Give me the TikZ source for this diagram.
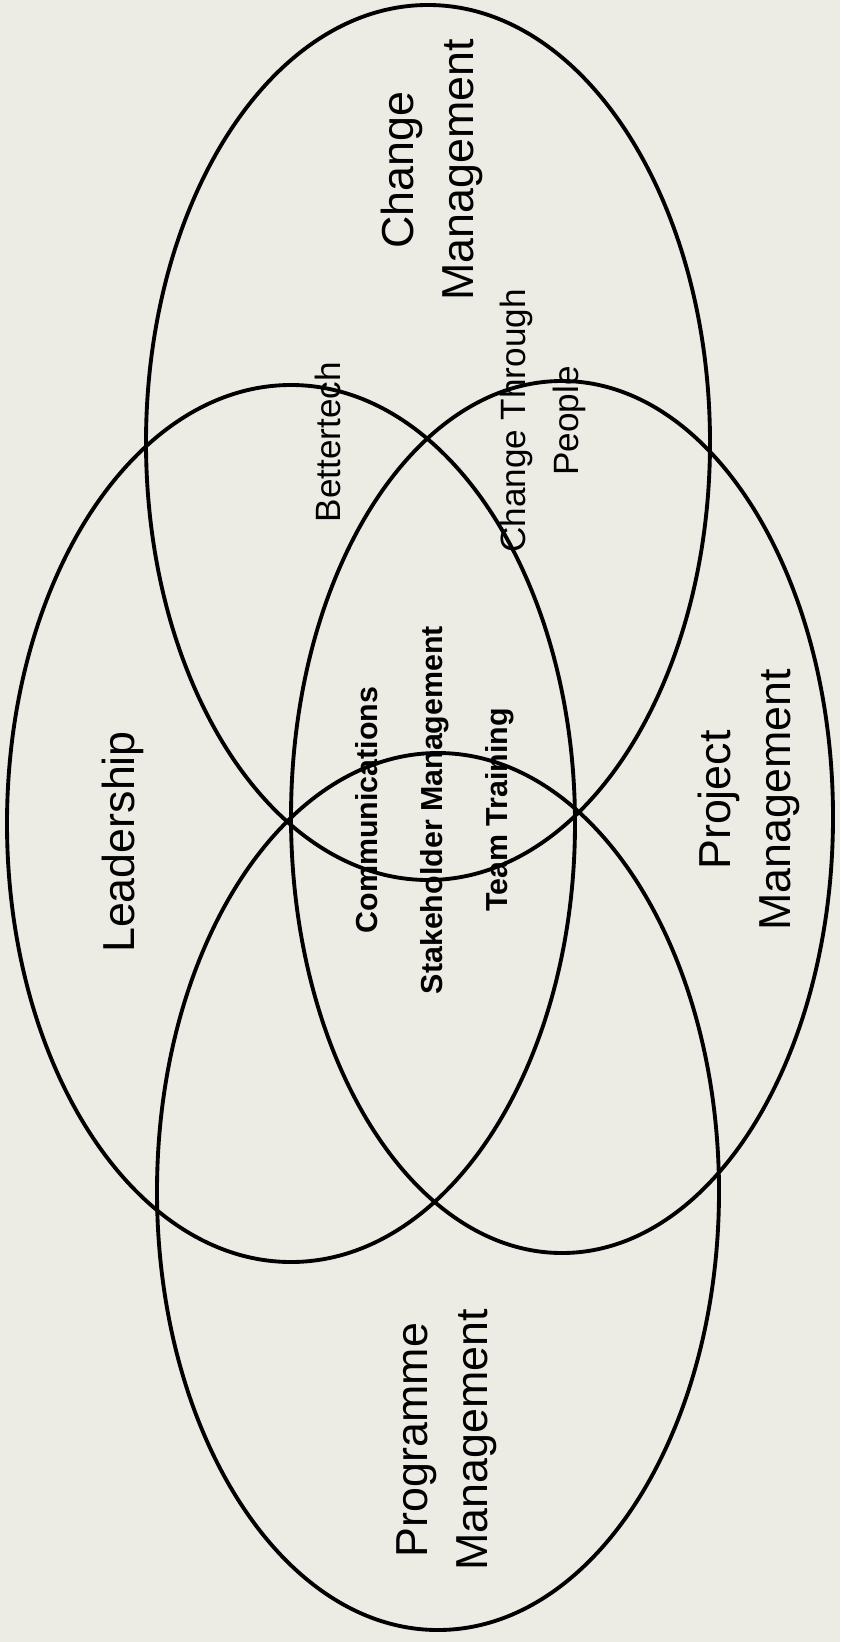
\documentclass[tikz,border=0pt]{standalone}
\usepackage{fontspec}
\setmainfont{Liberation Sans}
\definecolor{paper}{RGB}{236,236,229}
\begin{document}
\begin{tikzpicture}[x=0.02cm,y=-0.02cm,
  ring/.style={line width=2.2pt},
  biglabel/.style={rotate=90,align=center,inner sep=0pt,font=\fontsize{25.5}{34}\selectfont},
  midlabel/.style={rotate=90,align=center,inner sep=0pt,font=\fontsize{20}{30}\selectfont},
  corelabel/.style={rotate=90,align=center,inner sep=0pt,font=\bfseries\fontsize{17.3}{37}\selectfont}]
\fill[paper] (0,0) rectangle (840,1642);
\useasboundingbox (0,0) rectangle (840,1642);
% the four rings
\draw[ring] (428,442.5) ellipse [x radius=282,y radius=437.5];
\draw[ring] (291,823.5) ellipse [x radius=284,y radius=438.5];
\draw[ring] (562,817) ellipse [x radius=271,y radius=436];
\draw[ring] (438,1191.5) ellipse [x radius=281,y radius=438.5];
% names of the rings
\node[biglabel] (change) at (432,170) {Change\\Management};
\node[biglabel] (lead) at (123,842) {Leadership};
\node[biglabel] (project) at (749,800) {Project\\Management};
\node[biglabel] (programme) at (447,1440) {Programme\\Management};
% overlaps
\node[midlabel] (better) at (328,442) {Bettertech};
\node[midlabel] (people) at (543,421) {Change Through\\People};
\node[corelabel] (core) at (434.5,810) {Communications\\Stakeholder Management\\Team Training};
\end{tikzpicture}
\end{document}
